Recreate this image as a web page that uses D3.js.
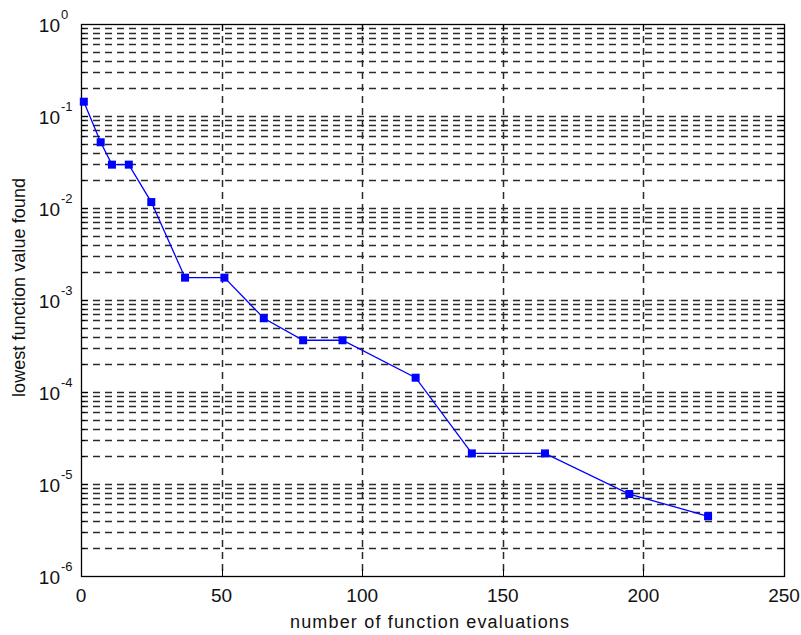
<!DOCTYPE html>
<html>
<head>
<meta charset="utf-8">
<script src="https://cdn.jsdelivr.net/npm/d3@7"></script>
<style>
  html, body { margin: 0; padding: 0; background: #fff; }
  svg { display: block; }
  text { font-family: "Liberation Sans", Arial, sans-serif; fill: #111; }
</style>
</head>
<body>
<svg id="chart" width="801" height="635"></svg>
<script>
// ---- data ----
const evaluations = [1, 7, 11, 17, 25, 37, 51, 65, 79, 93, 119, 139, 165, 195, 223];
const lowestValues = [0.143, 0.0518, 0.0296, 0.0296, 0.0116, 0.00175, 0.00175, 6.33e-4,
                      3.65e-4, 3.65e-4, 1.43e-4, 2.15e-5, 2.15e-5, 7.78e-6, 4.46e-6];
const xTicks = [0, 50, 100, 150, 200, 250];
const yExponents = [0, -1, -2, -3, -4, -5, -6];
const xTitle = "number of function evaluations";
const yTitle = "lowest function value found";

(function () {
// ---- layout ----
const pLeft = 81, pRight = 784, pTop = 24, pBottom = 576;
const svg = d3.select("#chart");
svg.append("rect").attr("width", 801).attr("height", 635).attr("fill", "#fff");

const x = d3.scaleLinear().domain([0, 250]).range([pLeft, pRight]);
const y = d3.scaleLog().domain([1e-6, 1]).range([pBottom, pTop]);

const gridColor = "#2a2a2a";
const dash = "7,5";

// horizontal grid lines (every 1..9 x 10^k)
const yGrid = y.ticks().filter(v => v > 1e-6 * 1.0001 && v < 0.9999);
svg.append("g").selectAll("line").data(yGrid).join("line")
  .attr("x1", pLeft).attr("x2", pRight)
  .attr("y1", d => Math.round(y(d)) + 0.5).attr("y2", d => Math.round(y(d)) + 0.5)
  .attr("stroke", gridColor).attr("stroke-width", 1.5).attr("stroke-dasharray", dash);

// vertical grid lines
const xGrid = xTicks.filter(v => v > 0 && v < 250);
svg.append("g").selectAll("line").data(xGrid).join("line")
  .attr("x1", d => Math.round(x(d)) + 0.5).attr("x2", d => Math.round(x(d)) + 0.5)
  .attr("y1", pTop).attr("y2", pBottom)
  .attr("stroke", gridColor).attr("stroke-width", 1.5).attr("stroke-dasharray", dash);

// box
svg.append("rect")
  .attr("x", pLeft + 0.5).attr("y", pTop + 0.5)
  .attr("width", pRight - pLeft).attr("height", pBottom - pTop)
  .attr("fill", "none").attr("stroke", "#000").attr("stroke-width", 1.3);

// ticks (inside, all sides)
const tg = svg.append("g").attr("stroke", "#000").attr("stroke-width", 1);
xTicks.forEach(v => {
  const px = Math.round(x(v)) + 0.5;
  tg.append("line").attr("x1", px).attr("x2", px).attr("y1", pBottom).attr("y2", pBottom - 7);
  tg.append("line").attr("x1", px).attr("x2", px).attr("y1", pTop).attr("y2", pTop + 7);
});
y.ticks().forEach(v => {
  const py = Math.round(y(v)) + 0.5;
  const major = Math.abs(Math.log10(v) - Math.round(Math.log10(v))) < 1e-9;
  const len = major ? 7 : 4;
  tg.append("line").attr("x1", pLeft).attr("x2", pLeft + len).attr("y1", py).attr("y2", py);
  tg.append("line").attr("x1", pRight).attr("x2", pRight - len).attr("y1", py).attr("y2", py);
});

// x tick labels
svg.append("g").selectAll("text").data(xTicks).join("text")
  .attr("x", d => x(d)).attr("y", 602)
  .attr("text-anchor", "middle").attr("font-size", 19)
  .text(d => d);

// y tick labels 10^k
const yl = svg.append("g");
yExponents.forEach(e => {
  const py = y(Math.pow(10, e));
  yl.append("text").attr("x", 60).attr("y", py + 7.5)
    .attr("text-anchor", "end").attr("font-size", 19).text("10");
  yl.append("text").attr("x", 61).attr("y", py - 5.5)
    .attr("text-anchor", "start").attr("font-size", 13).text(String(e));
});

// axis titles
svg.append("text")
  .attr("x", 290).attr("y", 628)
  .attr("font-size", 18)
  .attr("textLength", 279).attr("lengthAdjust", "spacing")
  .text(xTitle);

svg.append("text")
  .attr("transform", "translate(25,397) rotate(-90)")
  .attr("x", 0).attr("y", 0)
  .attr("font-size", 18)
  .attr("textLength", 219).attr("lengthAdjust", "spacing")
  .text(yTitle);

// data line
const pts = evaluations.map((e, i) => [e, lowestValues[i]]);
svg.append("path")
  .datum(pts)
  .attr("fill", "none").attr("stroke", "#0000ff").attr("stroke-width", 1.3)
  .attr("d", d3.line().x(d => x(d[0])).y(d => y(d[1])));

// square markers
svg.append("g").selectAll("rect").data(pts).join("rect")
  .attr("x", d => x(d[0]) - 4).attr("y", d => y(d[1]) - 4)
  .attr("width", 8).attr("height", 8)
  .attr("fill", "#0000ff");
})();
</script>
</body>
</html>
